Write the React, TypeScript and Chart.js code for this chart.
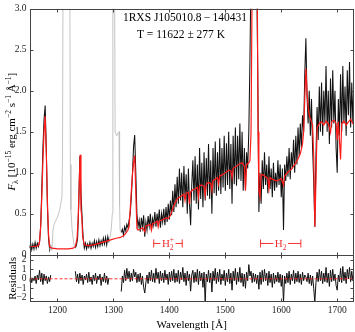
import React, { useEffect, useRef } from "react";
import { Chart, registerables } from "chart.js";
Chart.register(...registerables);

const SERIF = '"Liberation Serif", "DejaVu Serif", "Times New Roman", serif';

// ---------- axis ticks ----------
const xTicks = [1200, 1300, 1400, 1500, 1600, 1700];
const fluxTicks = [0, 0.5, 1.0, 1.5, 2.0, 2.5, 3.0];
const residTicks = [-2, -1, 0, 1, 2];

// ---------- text ----------
const titleLine1 = "1RXS J105010.8\u2009\u2212\u2009140431";
const titleLine2 = "T = 11622 \u00b1 277 K";
const xTitle = "Wavelength [\u00c5]";
const residTitle = "Residuals";

// ---------- observed spectrum (black), 2 Å sampling ----------
const STEP = 2;
const obsAStart = 1150;
const obsAFlux = [0.08, 0.14, 0.06, 0.13, 0.07, 0.15, 0.08, 0.14, 0.1, 0.16, 0.35, 0.8, 1.3, 1.65, 1.82, 1.3, 0.6, 0.2, 0.06, 0.12];
const obsBStart = 1232;
const obsBFlux = [0.08, 0.12, 0.2, 0.6, 1.2, 0.75, 0.45, 0.2, 0.08, 0.14, 0.07, 0.13, 0.09, 0.15, 0.08, 0.14, 0.1, 0.17, 0.09, 0.16, 0.1, 0.18, 0.11, 0.17, 0.12, 0.2, 0.13, 0.21, 0.12, 0.22, 0.15];
const obsCStart = 1314;
const obsCFlux = [
  0.27, 0.31, 0.24, 0.34, 0.29, 0.37, 0.33, 0.42, 0.5, 0.7,
  0.98, 1.32, 1.46, 1.0, 0.5, 0.34, 0.42, 0.28, 0.45, 0.33,
  0.48, 0.22, 0.4, 0.3, 0.47, 0.35, 0.5, 0.3, 0.44, 0.36,
  0.52, 0.34, 0.5, 0.38, 0.55, 0.33, 0.5, 0.4, 0.56, 0.36,
  0.58, 0.4, 0.62, 0.43, 0.66, 0.48, 0.78, 0.52, 0.86, 0.58,
  0.95, 0.62, 1.05, 0.66, 1.0, 0.58, 1.08, 0.68, 0.98, 0.5,
  1.05, 0.62, 0.36, 0.85, 1.15, 0.66, 1.2, 0.62, 1.1, 0.55,
  1.3, 0.68, 1.12, 0.58, 1.25, 0.66, 1.18, 0.72, 1.35, 0.68,
  1.15, 0.5, 1.3, 0.75, 1.38, 0.72, 1.25, 0.78, 1.42, 0.74,
  1.3, 0.82, 1.45, 0.78, 1.36, 0.85, 1.5, 0.8, 1.35, 0.62,
  1.45, 0.86, 1.55, 0.84, 1.45, 0.92, 1.6, 0.9, 1.5, 0.78,
  1.3, 0.8, 1.25, 1.05, 1.5, 2.37, 3.5, 3.5, 3.5, 3.5,
  3.5, 3.5, 2.2, 0.52, 1.0, 0.62, 1.15, 0.8, 1.25, 0.85,
  1.1, 0.75, 1.2, 0.8, 1.05, 0.7, 1.12, 0.78, 1.0, 0.82,
  1.15, 0.85, 1.1, 0.7, 1.05, 0.3, 1.1, 0.9, 1.2, 0.95,
  1.3, 0.92, 1.25, 1.05, 1.4, 1.0, 1.45, 1.1, 1.55, 1.2,
  1.6, 1.3, 1.7, 1.5, 2.2, 2.64, 1.95, 1.6, 2.0, 1.45,
  1.9, 1.3, 0.9, 0.34, 1.2, 1.8, 1.4, 2.05, 1.5, 2.1,
  1.45, 2.0, 1.6, 2.3, 1.5, 2.0, 1.35, 2.15, 1.55, 2.25,
  1.6, 2.0, 1.3, 1.0, 1.9, 1.45, 2.2, 1.5, 2.3, 1.6,
  2.05, 1.45, 2.25, 1.7, 2.35, 1.55, 2.1, 1.6, 2.2,
];

// ---------- masked regions (grey) ----------
const maskLyaWave = [1186, 1188, 1190, 1192, 1194, 1196, 1198, 1200, 1202, 1204, 1206, 1208, 1209, 1210, 1222, 1223, 1224, 1226, 1228, 1230, 1232];
const maskLyaFlux = [0.06, 0.12, 0.05, 0.3, 0.37, 0.4, 0.43, 0.46, 0.5, 0.55, 0.62, 0.7, 1.2, 3.5, 3.5, 1.1, 0.55, 0.32, 0.2, 0.1, 0.08];
const maskOIWave = [1292, 1294, 1296, 1298, 1299, 1302, 1303, 1306, 1310, 1311, 1312, 1314];
const maskOIFlux = [0.15, 0.22, 0.3, 0.5, 3.5, 3.5, 1.5, 1.45, 1.5, 0.6, 0.3, 0.27];

// ---------- model (red) ----------
const modelWave = [
  1150, 1160, 1166, 1168, 1170, 1172, 1174, 1176, 1178, 1180, 1182, 1184, 1186, 1190, 1200, 1210, 1220, 1228,
  1232, 1235, 1237, 1239, 1240.5, 1242, 1243.5, 1245, 1248, 1255, 1265, 1275, 1285, 1295, 1305, 1312, 1318, 1322,
  1326, 1328, 1330, 1332, 1334, 1336, 1338, 1340, 1342, 1344, 1348, 1352, 1356, 1358, 1362, 1366, 1368, 1370,
  1374, 1378, 1380, 1382, 1386, 1390, 1394, 1398, 1402, 1406, 1410, 1414, 1418, 1422, 1426, 1428, 1430, 1434,
  1436, 1438, 1442, 1446, 1450, 1452, 1454, 1458, 1462, 1464, 1466, 1470, 1474, 1476, 1478, 1482, 1486, 1488,
  1490, 1494, 1498, 1502, 1506, 1510, 1512, 1514, 1518, 1522, 1526, 1530, 1534, 1536, 1538, 1542, 1544, 1546,
  1548, 1553, 1557, 1558.5, 1560, 1562, 1564, 1568, 1572, 1576, 1578, 1580, 1584, 1588, 1592, 1596, 1600, 1604,
  1606, 1610, 1614, 1618, 1622, 1626, 1630, 1634, 1638, 1640, 1642, 1644, 1646, 1648, 1650, 1654, 1656, 1658,
  1660, 1662, 1664, 1668, 1672, 1676, 1680, 1684, 1688, 1690, 1694, 1698, 1700, 1702, 1706, 1708, 1712, 1716,
  1720, 1724, 1728, 1730,
];
const modelFlux = [
  0.1, 0.1, 0.11, 0.16, 0.35, 0.7, 1.15, 1.5, 1.69, 1.25, 0.65, 0.25, 0.1, 0.08, 0.07, 0.07, 0.07, 0.08,
  0.1, 0.2, 0.45, 0.9, 1.22, 0.55, 0.46, 0.22, 0.12, 0.11, 0.12, 0.14, 0.16, 0.18, 0.2, 0.21, 0.23, 0.26,
  0.3, 0.34, 0.55, 0.78, 0.98, 1.12, 1.21, 0.75, 0.32, 0.3, 0.31, 0.33, 0.28, 0.35, 0.36, 0.37, 0.3, 0.38,
  0.39, 0.41, 0.34, 0.41, 0.42, 0.43, 0.45, 0.44, 0.48, 0.56, 0.63, 0.68, 0.7, 0.72, 0.74, 0.66, 0.75, 0.76,
  0.62, 0.77, 0.79, 0.8, 0.82, 0.7, 0.84, 0.85, 0.83, 0.72, 0.86, 0.88, 0.87, 0.78, 0.9, 0.92, 0.94, 0.86,
  0.96, 0.97, 0.99, 1.01, 1.03, 1.02, 0.94, 1.05, 1.07, 1.09, 1.11, 1.12, 1.08, 0.78, 1.1, 1.12, 1.15, 1.5,
  3.4, 3.7, 3.4, 1.5, 0.78, 0.7, 0.98, 0.97, 0.95, 0.93, 0.8, 0.94, 0.92, 0.91, 0.9, 0.91, 0.93, 0.85,
  0.96, 0.99, 1.02, 1.04, 1.08, 1.12, 1.17, 1.23, 1.35, 1.5, 1.9, 2.27, 2.0, 1.8, 1.7, 1.62, 1.58, 1.2,
  0.34, 0.9, 1.55, 1.6, 1.62, 1.58, 1.63, 1.6, 1.49, 1.62, 1.64, 1.6, 1.4, 1.62, 1.16, 1.6, 1.63, 1.58,
  1.62, 1.65, 1.6, 1.63,
];

// ---------- residuals ----------
const resAStart = 1150;
const resA = [-0.3, 0.2, -0.4, 0.1, -0.2, 0.3, -0.5, 0.4, -0.1, 0.9, -0.3, 0.6, -0.6, 0.5, -0.2, 0.3, -0.5, 0.2, -0.3, 0.4];
const resBStart = 1232;
const resB = [0.8, -0.3, 0.5, -0.5, 0.6, -0.2, 0.4, -0.6, 0.3, -0.1, 0.5, -0.4, 0.7, -0.3, 0.2, -0.6, 0.4, -0.2, 0.6, -0.5, 0.3, -0.1, 0.5, -0.7, 0.2, -0.3, 0.6, -0.4, 0.3, -0.6, 0.1];
const resCStart = 1314;
const resC = [
  -1.35, 0.3, -0.4, 0.9, -0.2, 1.1, 0.0, 0.8, -0.3, 0.6,
  -0.2, 1.0, 0.2, 0.7, -0.4, 0.5, -0.3, 0.6, -0.6, 0.3,
  -0.9, -1.5, -0.4, 0.4, -0.5, 0.7, -0.2, 0.9, -0.3, 0.6,
  -0.4, 1.1, 0.0, 0.7, -0.5, 0.8, -0.2, 0.6, -0.4, 0.9,
  -0.1, 0.5, -0.6, 0.7, -0.3, 0.8, -0.2, 1.0, -0.4, 0.6,
  -0.3, 0.9, -0.5, 0.7, -0.1, 1.2, -0.3, 0.6, -0.7, 0.8,
  -0.2, 0.5, -1.3, 0.4, 0.9, -0.4, 0.7, -0.3, 1.0, -0.6,
  0.8, -0.2, 0.6, -0.9, 0.7, -2.5, 0.5, -0.3, 0.9, -0.4,
  0.6, -1.4, 0.8, -0.2, 1.1, -0.5, 0.7, -0.3, 1.0, -0.6,
  0.5, -0.2, 0.9, -0.7, 0.6, -0.3, 1.0, -0.5, 0.6, -1.2,
  0.8, -0.2, 1.1, -0.6, 0.7, -0.3, 1.2, -0.4, 0.6, -0.8,
  0.5, -1.0, 0.7, -0.2, 1.5, 0.3, 0.8, -0.4, 0.6, -0.3,
  0.5, -0.5, 0.4, -1.1, 0.7, -0.6, 0.9, -0.3, 1.0, -0.2,
  0.6, -0.7, 0.8, -0.4, 0.5, -0.9, 0.6, -0.5, 0.4, -0.3,
  0.7, -0.4, 0.5, -0.8, 0.4, -2.5, 0.3, -0.5, 0.6, -0.4,
  0.8, -0.6, 0.5, -0.2, 0.9, -0.5, 0.6, -0.3, 0.8, -0.4,
  0.5, -0.6, 0.7, -0.2, 0.4, 0.2, -0.3, 0.6, -0.5, 0.4,
  -0.7, 0.3, -1.0, -2.5, -0.4, 0.7, -0.3, 1.0, -0.2, 0.8,
  -0.5, 0.6, -0.3, 1.2, -0.4, 0.6, -0.8, 0.9, -0.3, 1.0,
  -0.2, 0.5, -0.7, -1.2, 0.4, -0.3, 1.1, -0.4, 1.3, -0.2,
  0.7, -0.5, 1.0, 0.0, 1.2, -0.3, 0.8, -0.2, 0.9,
];
const zeroLineWave = [1150, 1730];
const zeroLineRes = [0, 0];

// ---------- molecular band markers ----------
const bandH2pWave = [1372, 1423];
const bandH2Wave = [1563, 1635];
const bandLevel = 0.137;

// ---------- helpers ----------
const gridPts = (start: number, vals: number[]) => vals.map((v, i) => ({ x: start + STEP * i, y: v }));
const pairPts = (ws: number[], fs: number[]) => ws.map((w, i) => ({ x: w, y: fs[i] }));

type Piece = { t: string; size: number; dy?: number; italic?: boolean; back?: boolean };
const fontOf = (p: Piece) => `${p.italic ? "italic " : ""}${p.size}px ${SERIF}`;

function layoutRich(ctx: CanvasRenderingContext2D, pieces: Piece[]) {
  let cur = 0, prevStart = 0;
  const pos: number[] = [];
  for (const p of pieces) {
    ctx.font = fontOf(p);
    const w = ctx.measureText(p.t).width;
    const start = p.back ? prevStart : cur;
    pos.push(start);
    prevStart = start;
    cur = Math.max(cur, start + w);
  }
  return { pos, width: cur };
}

function drawRich(ctx: CanvasRenderingContext2D, pieces: Piece[], cx: number, baseline: number, color: string) {
  const { pos, width } = layoutRich(ctx, pieces);
  const x0 = cx - width / 2;
  ctx.fillStyle = color;
  ctx.textAlign = "left";
  ctx.textBaseline = "alphabetic";
  pieces.forEach((p, i) => {
    ctx.font = fontOf(p);
    ctx.fillText(p.t, x0 + pos[i], baseline + (p.dy || 0));
  });
  return { left: x0, right: x0 + width };
}

const yTitlePieces: Piece[] = [
  { t: "F", size: 11, italic: true },
  { t: "\u03bb", size: 8, dy: 2.5 },
  { t: " [10", size: 11 },
  { t: "\u221215", size: 7.5, dy: -4.5 },
  { t: " erg cm", size: 11 },
  { t: "\u22122", size: 7.5, dy: -4.5 },
  { t: " s", size: 11 },
  { t: "\u22121", size: 7.5, dy: -4.5 },
  { t: " \u00c5", size: 11 },
  { t: "\u22121", size: 7.5, dy: -4.5 },
  { t: "]", size: 11 },
];
const h2pPieces: Piece[] = [
  { t: "H", size: 11 },
  { t: "2", size: 7.5, dy: 2.5 },
  { t: "+", size: 7.5, dy: -5, back: true },
];
const h2Pieces: Piece[] = [
  { t: "H", size: 11 },
  { t: "2", size: 7.5, dy: 2.5 },
];

const FRAME = "#444";
const RED = "#ff1a1a";
const BAND_RED = "#f03030";
const TICK_FONT_SIZE = 9.5;

const decorPlugin = {
  id: "decor",
  afterDraw(chart: any) {
    const ctx: CanvasRenderingContext2D = chart.ctx;
    const sx = chart.scales.x, sy = chart.scales.y, sr = chart.scales.yr;
    const L = Math.round(sx.left) + 0.5, R = Math.round(sx.right) - 0.5;
    ctx.save();
    ctx.strokeStyle = FRAME;
    ctx.lineWidth = 1;
    const panels: [number, number, any, number[]][] = [
      [Math.round(sy.top) + 0.5, Math.round(sy.bottom) + 0.5, sy, fluxTicks],
      [Math.round(sr.top) + 0.5, Math.round(sr.bottom) - 0.5, sr, residTicks],
    ];
    const TL = 3;
    for (const [t, b, sc, ticks] of panels) {
      ctx.strokeRect(L, t, R - L, b - t);
      ctx.beginPath();
      for (const v of xTicks) {
        const px = Math.round(sx.getPixelForValue(v)) + 0.5;
        ctx.moveTo(px, t); ctx.lineTo(px, t + TL);
        ctx.moveTo(px, b); ctx.lineTo(px, b - TL);
      }
      for (const v of ticks) {
        const py = Math.round(sc.getPixelForValue(v)) + 0.5;
        ctx.moveTo(L, py); ctx.lineTo(L + TL, py);
        ctx.moveTo(R, py); ctx.lineTo(R - TL, py);
      }
      ctx.stroke();
    }

    // residual tick labels
    ctx.fillStyle = "#222";
    ctx.font = `${TICK_FONT_SIZE}px ${SERIF}`;
    ctx.textAlign = "right";
    ctx.textBaseline = "middle";
    for (const v of residTicks) {
      const py = sr.getPixelForValue(v);
      ctx.fillText(v < 0 ? "\u2212" + Math.abs(v) : String(v), sx.left - 3, py);
    }

    // titles inside main panel
    ctx.fillStyle = "#000";
    ctx.textAlign = "center";
    ctx.textBaseline = "alphabetic";
    ctx.font = `11.5px ${SERIF}`;
    ctx.fillText(titleLine1, 185, 20.5);
    ctx.fillText(titleLine2, 181, 38);

    // band markers
    const drawBand = (ws: number[], pieces: Piece[]) => {
      const x1 = sx.getPixelForValue(ws[0]);
      const x2 = sx.getPixelForValue(ws[1]);
      const yb = sy.getPixelForValue(bandLevel);
      const cx = (x1 + x2) / 2;
      const { left, right } = drawRich(ctx, pieces, cx, yb + 4, BAND_RED);
      ctx.strokeStyle = BAND_RED;
      ctx.lineWidth = 1;
      ctx.beginPath();
      ctx.moveTo(x1, yb); ctx.lineTo(left - 1.5, yb);
      ctx.moveTo(right + 1.5, yb); ctx.lineTo(x2, yb);
      ctx.moveTo(x1, yb - 4); ctx.lineTo(x1, yb + 4);
      ctx.moveTo(x2, yb - 4); ctx.lineTo(x2, yb + 4);
      ctx.stroke();
    };
    drawBand(bandH2pWave, h2pPieces);
    drawBand(bandH2Wave, h2Pieces);

    // axis titles
    ctx.save();
    ctx.translate(15, (sy.top + sy.bottom) / 2);
    ctx.rotate(-Math.PI / 2);
    drawRich(ctx, yTitlePieces, 0, 0, "#000");
    ctx.restore();

    ctx.save();
    ctx.translate(15.5, (sr.top + sr.bottom) / 2);
    ctx.rotate(-Math.PI / 2);
    ctx.fillStyle = "#000";
    ctx.font = `11px ${SERIF}`;
    ctx.textAlign = "center";
    ctx.textBaseline = "alphabetic";
    ctx.fillText(residTitle, 0, 0);
    ctx.restore();

    ctx.fillStyle = "#000";
    ctx.font = `11px ${SERIF}`;
    ctx.textAlign = "center";
    ctx.textBaseline = "alphabetic";
    ctx.fillText(xTitle, (sx.left + sx.right) / 2, 328);
    ctx.restore();
  },
};

export default function App() {
  const ref = useRef<HTMLCanvasElement | null>(null);
  useEffect(() => {
    if (!ref.current) return;
    const tickFont = { family: SERIF, size: TICK_FONT_SIZE };
    const line = (data: any[], color: string, width: number, axis: string, order: number, extra: any = {}) => ({
      data, borderColor: color, borderWidth: width, pointRadius: 0, yAxisID: axis, order, tension: 0, fill: false, ...extra,
    });
    const chart = new Chart(ref.current, {
      type: "line",
      data: {
        datasets: [
          line(pairPts(modelWave, modelFlux), RED, 1.2, "y", 0),
          line(pairPts(maskLyaWave, maskLyaFlux), "#bdbdbd", 0.9, "y", 2),
          line(pairPts(maskOIWave, maskOIFlux), "#bdbdbd", 0.9, "y", 2),
          line(gridPts(obsAStart, obsAFlux), "#111", 1.05, "y", 3),
          line(gridPts(obsBStart, obsBFlux), "#111", 1.05, "y", 3),
          line(gridPts(obsCStart, obsCFlux), "#111", 1.05, "y", 3),
          line(gridPts(resAStart, resA), "#111", 1.0, "yr", 3),
          line(gridPts(resBStart, resB), "#111", 1.0, "yr", 3),
          line(gridPts(resCStart, resC), "#111", 1.0, "yr", 3),
          line(pairPts(zeroLineWave, zeroLineRes), RED, 0.9, "yr", 0, { borderDash: [3, 2] }),
        ],
      },
      options: {
        animation: false,
        responsive: false,
        devicePixelRatio: 1,
        layout: { padding: { top: 4.5, right: 1, left: 0, bottom: 0 } },
        plugins: { legend: { display: false }, tooltip: { enabled: false } },
        events: [],
        scales: {
          x: {
            type: "linear", position: "bottom", min: 1150, max: 1730,
            grid: { display: false, drawTicks: false }, border: { display: false },
            ticks: { font: tickFont, color: "#222", padding: 3, maxRotation: 0, autoSkip: false, callback: (v: any) => String(v) },
            afterBuildTicks: (s: any) => { s.ticks = xTicks.map((v) => ({ value: v })); },
            afterFit: (s: any) => { s.height = 30; },
          },
          y: {
            type: "linear", position: "left", stack: "panels", stackWeight: 249.5, weight: 1, min: 0, max: 3,
            grid: { display: false, drawTicks: false }, border: { display: false },
            ticks: { font: tickFont, color: "#222", padding: 3, autoSkip: false, callback: (v: any) => (v === 0 ? "0" : Number(v).toFixed(1)) },
            afterBuildTicks: (s: any) => { s.ticks = fluxTicks.map((v) => ({ value: v })); },
            afterFit: (s: any) => { s.width = 29.5; },
          },
          yr: {
            type: "linear", position: "left", stack: "panels", stackWeight: 48, weight: 0, min: -2.45, max: 2.55,
            grid: { display: false, drawTicks: false }, border: { display: false },
            ticks: { display: false },
            afterBuildTicks: (s: any) => { s.ticks = residTicks.map((v) => ({ value: v })); },
            afterFit: (s: any) => { s.width = 29.5; },
          },
        },
      },
      plugins: [decorPlugin],
    } as any);
    return () => chart.destroy();
  }, []);
  return (
    <div style={{ position: "fixed", left: 0, top: 0, width: 355, height: 332, background: "#fff" }}>
      <canvas ref={ref} width={355} height={332} style={{ display: "block", width: 355, height: 332 }} />
    </div>
  );
}
